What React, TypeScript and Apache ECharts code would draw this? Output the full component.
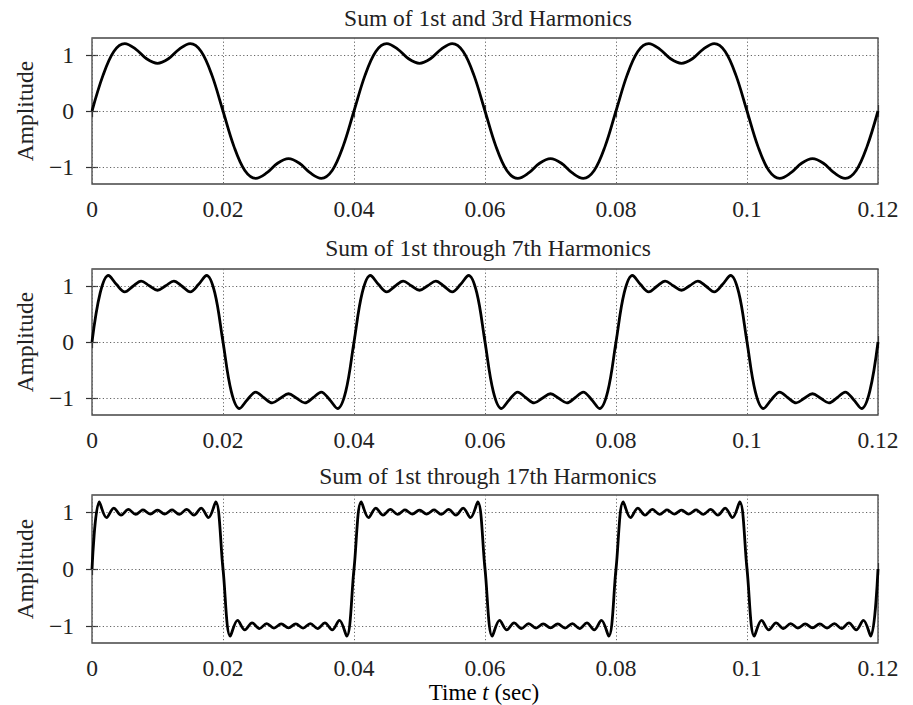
import React, { useEffect, useRef } from "react";
import * as echarts from "echarts";

// One period (0.04 s) of each partial sum, sampled evenly; the picture repeats it three times.
const PERIOD_SEC = 0.04;
const PERIODS_SHOWN = 3;

const WAVE_1_3 = [
  0, 0.63, 1.061, 1.2, 1.103, 0.93, 0.849, 0.93, 1.103, 1.2, 1.061, 0.63,
  0, -0.63, -1.061, -1.2, -1.103, -0.93, -0.849, -0.93, -1.103, -1.2, -1.061, -0.63,
];

const WAVE_1_7 = [
  0, 0.874, 1.184, 1.022, 0.892, 0.993, 1.085, 1.002, 0.922, 1.002, 1.085, 0.993, 0.892, 1.022, 1.184, 0.874,
  0, -0.874, -1.184, -1.022, -0.892, -0.993, -1.085, -1.002, -0.922, -1.002, -1.085, -0.993, -0.892, -1.022, -1.184, -0.874,
];

const WAVE_1_17 = [
  0, 1.18, 0.901, 1.069, 0.946, 1.046, 0.959, 1.037, 0.964, 1.035, 0.964, 1.037, 0.959, 1.046, 0.946, 1.069, 0.901, 1.18,
  0, -1.18, -0.901, -1.069, -0.946, -1.046, -0.959, -1.037, -0.964, -1.035, -0.964, -1.037, -0.959, -1.046, -0.946, -1.069, -0.901, -1.18,
];

const TITLES = [
  "Sum of 1st and 3rd Harmonics",
  "Sum of 1st through 7th Harmonics",
  "Sum of 1st through 17th Harmonics",
];

const Y_TICKS = [-1, 0, 1];
const X_MIN = 0;
const X_MAX = 0.12;
const X_STEP = 0.02;
const Y_NAME = "Amplitude";

const FONT = "'Liberation Serif', 'DejaVu Serif', serif";
const FS = 23.5;

function buildSeries(period: number[]) {
  const step = PERIOD_SEC / period.length;
  const out: [number, number][] = [];
  for (let p = 0; p < PERIODS_SHOWN; p++) {
    period.forEach((v, i) => {
      out.push([+((p * period.length + i) * step).toFixed(6), v]);
    });
  }
  out.push([+(PERIODS_SHOWN * PERIOD_SEC).toFixed(6), period[0]]);
  return out;
}

const WAVES = [WAVE_1_3, WAVE_1_7, WAVE_1_17];

export default function App() {
  const ref = useRef<HTMLDivElement>(null);
  useEffect(() => {
    if (!ref.current) return;
    const chart = echarts.init(ref.current, undefined, { renderer: "svg" });

    const gridTops = [38, 269, 495];
    const gridHeights = [146, 146, 148];
    const titleY = [18, 248, 476];

    const grids = gridTops.map((top, i) => ({
      left: 92,
      top,
      width: 786,
      height: gridHeights[i],
      show: true,
      borderColor: "#444",
      borderWidth: 1.3,
      backgroundColor: "transparent",
    }));

    const xAxes: any[] = [];
    const yAxes: any[] = [];
    const fmtX = (v: number) => String(+v.toFixed(2));
    const fmtY = (v: number) => (v < 0 ? "\u2212" + Math.abs(v) : String(v));

    for (let i = 0; i < 3; i++) {
      xAxes.push({
        type: "value",
        gridIndex: i,
        position: "bottom",
        min: X_MIN,
        max: X_MAX,
        interval: X_STEP,
        axisLine: { show: false },
        axisTick: { show: true, inside: true, length: 6, lineStyle: { color: "#333", width: 1.2 } },
        axisLabel: {
          show: true,
          margin: 13,
          formatter: fmtX,
          fontFamily: FONT,
          fontSize: FS,
          color: "#222",
        },
        splitLine: { show: true, lineStyle: { color: "#666", width: 1, type: [1.2, 2.4] } },
      });
      xAxes.push({
        type: "value",
        gridIndex: i,
        position: "top",
        min: X_MIN,
        max: X_MAX,
        interval: X_STEP,
        axisLine: { show: false },
        axisTick: { show: true, inside: true, length: 6, lineStyle: { color: "#333", width: 1.2 } },
        axisLabel: { show: false },
        splitLine: { show: false },
      });
      yAxes.push({
        type: "value",
        gridIndex: i,
        position: "left",
        min: -1.3,
        max: 1.3,
        name: Y_NAME,
        nameLocation: "middle",
        nameRotate: 90,
        nameGap: 55,
        nameTextStyle: { fontFamily: FONT, fontSize: FS, color: "#222" },
        axisLine: { show: false },
        axisTick: { show: true, inside: true, length: 6, customValues: Y_TICKS, lineStyle: { color: "#333", width: 1.2 } },
        axisLabel: {
          show: true,
          margin: 18,
          customValues: Y_TICKS,
          formatter: fmtY,
          fontFamily: FONT,
          fontSize: FS,
          color: "#222",
        },
        splitLine: { show: false },
      });
      yAxes.push({
        type: "value",
        gridIndex: i,
        position: "right",
        min: -1.3,
        max: 1.3,
        axisLine: { show: false },
        axisTick: { show: true, inside: true, length: 6, customValues: Y_TICKS, lineStyle: { color: "#333", width: 1.2 } },
        axisLabel: { show: false },
        splitLine: { show: false },
      });
    }

    const series: any[] = [];
    for (let i = 0; i < 3; i++) {
      series.push({
        type: "line",
        xAxisIndex: i * 2,
        yAxisIndex: i * 2,
        data: [],
        z: 1,
        silent: true,
        markLine: {
          silent: true,
          symbol: ["none", "none"],
          label: { show: false },
          lineStyle: { color: "#666", width: 1, type: [1.2, 2.4] },
          data: Y_TICKS.map((v) => ({ yAxis: v })),
        },
      });
      series.push({
        type: "line",
        xAxisIndex: i * 2,
        yAxisIndex: i * 2,
        data: buildSeries(WAVES[i]),
        showSymbol: false,
        smooth: 0.35,
        z: 5,
        lineStyle: { color: "#000", width: 2.8 },
      });
    }

    const graphic: any[] = TITLES.map((t, i) => ({
      type: "text",
      x: 488,
      y: titleY[i],
      style: {
        text: t,
        fontFamily: FONT,
        fontSize: FS,
        fill: "#222",
        align: "center",
        verticalAlign: "middle",
      },
    }));
    graphic.push({
      type: "text",
      x: 484,
      y: 692,
      style: {
        text: "{n|Time }{i|t}{n| (sec)}",
        align: "center",
        verticalAlign: "middle",
        rich: {
          n: { fontFamily: FONT, fontSize: 23, color: "#222" },
          i: { fontFamily: FONT, fontSize: 23, fontStyle: "italic", color: "#222" },
        },
      },
    });

    chart.setOption({
      animation: false,
      backgroundColor: "#fff",
      grid: grids,
      xAxis: xAxes,
      yAxis: yAxes,
      series,
      graphic,
    });
    return () => chart.dispose();
  }, []);

  return (
    <div
      ref={ref}
      style={{ position: "absolute", left: 0, top: 0, width: 913, height: 705 }}
    />
  );
}
